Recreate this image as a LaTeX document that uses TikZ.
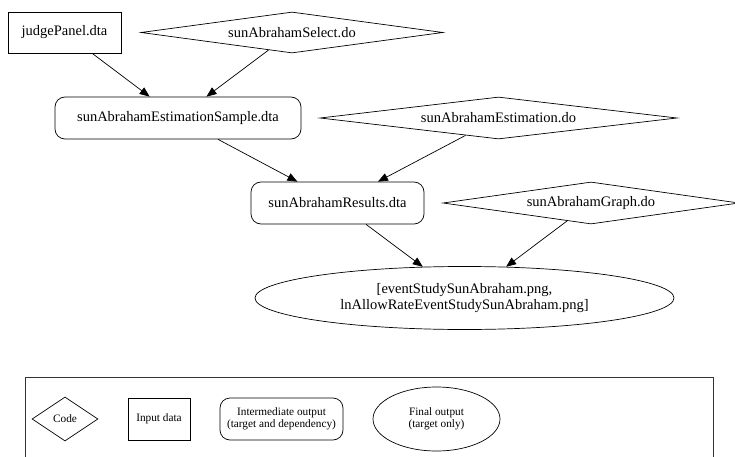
\documentclass[tikz,border=0pt]{standalone}
\usepackage{fontspec}
\setmainfont{Liberation Serif}
\usepackage{tikz}
\usetikzlibrary{shapes.geometric,arrows.meta,positioning}

\begin{document}
\begin{tikzpicture}[x=1pt, y=-1pt]
	\tikzstyle{every node} = [draw = black, line width = 0.7pt, inner sep = 0pt, font = \fontsize{14.5}{16.5}\selectfont]
	\tikzstyle{codefile} = [diamond, aspect = 7]
	\tikzstyle{inputfile} = [rectangle]
	\tikzstyle{interfile} = [rectangle, rounded corners = 10pt]
	\tikzstyle{finalfile} = [ellipse, align = center]
	\tikzstyle{dep} = [line width = 0.7pt, -{Triangle[length = 10pt, width = 8pt]}]
	\tikzstyle{legtext} = [font = \fontsize{11.3}{12.5}\selectfont, align = center]
\useasboundingbox (0,0) rectangle (735,457);
\node[inputfile, minimum width = 113pt, minimum height = 41pt] (judgePanel) at (64.5, 32.5) {judgePanel.dta};
\node[codefile, minimum width = 302pt, minimum height = 41pt] (select) at (292, 32.5) {sunAbrahamSelect.do};
\node[interfile, minimum width = 246pt, minimum height = 42pt] (sample) at (178, 118) {sunAbrahamEstimationSample.dta};
\node[codefile, minimum width = 357pt, minimum height = 42pt] (estimation) at (498.5, 118) {sunAbrahamEstimation.do};
\node[interfile, minimum width = 173pt, minimum height = 42pt] (results) at (337.5, 203) {sunAbrahamResults.dta};
\node[codefile, minimum width = 296pt, minimum height = 42pt] (graph) at (591, 203) {sunAbrahamGraph.do};
\node[finalfile, minimum width = 419pt, minimum height = 63pt] (figures) at (464.5, 298) {[eventStudySunAbraham.png,\\lnAllowRateEventStudySunAbraham.png]};
	\draw[dep] (judgePanel) -- (sample);
	\draw[dep] (select) -- (sample);
	\draw[dep] (sample) -- (results);
	\draw[dep] (estimation) -- (results);
	\draw[dep] (results) -- (figures);
	\draw[dep] (graph) -- (figures);
% legend
\draw[line width = 0.6pt, black!80] (25, 460) -- (25, 377) -- (713, 377) -- (713, 460);
\node[codefile, aspect = 1.5, minimum width = 66pt, minimum height = 44pt] (legCode) at (65, 419) {};
\node[legtext, draw = none] at (legCode) {Code};
\node[inputfile, legtext, minimum width = 62pt, minimum height = 42pt] (legInput) at (159, 419) {Input data};
\node[interfile, legtext, minimum width = 123pt, minimum height = 42pt] (legInter) at (281.5, 419) {Intermediate output\\(target and dependency)};
\node[finalfile, legtext, minimum width = 127pt, minimum height = 64pt] (legFinal) at (436.5, 419) {Final output\\(target only)};
\end{tikzpicture}
\end{document}
